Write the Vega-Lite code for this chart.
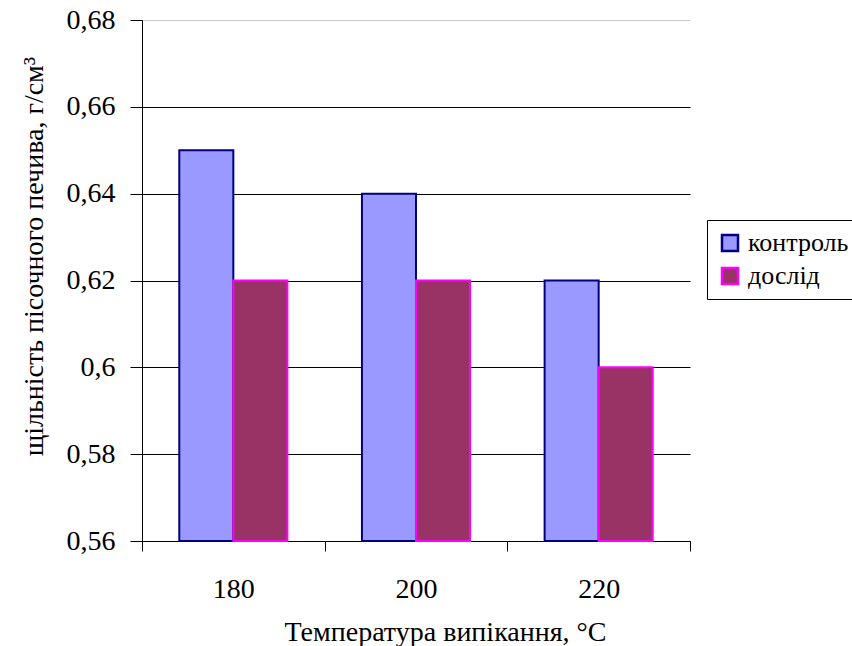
{
  "$schema": "https://vega.github.io/schema/vega-lite/v6.json",
  "width": 548,
  "height": 521,
  "autosize": {"type": "none"},
  "padding": {"left": 142, "top": 20, "right": 162, "bottom": 105},
  "background": "white",
  "config": {
    "view": {"stroke": null},
    "font": "'Liberation Serif', serif",
    "axis": {
      "labelFont": "'Liberation Serif', serif",
      "titleFont": "'Liberation Serif', serif",
      "labelColor": "black",
      "titleColor": "black",
      "titleFontWeight": "normal",
      "domainColor": "black",
      "tickColor": "black",
      "domainWidth": 1,
      "tickWidth": 1
    },
    "legend": {
      "labelFont": "'Liberation Serif', serif",
      "labelColor": "black"
    }
  },
  "data": {
    "values": [
      {"temp": "180", "series": "контроль", "density": 0.65},
      {"temp": "180", "series": "дослід", "density": 0.62},
      {"temp": "200", "series": "контроль", "density": 0.64},
      {"temp": "200", "series": "дослід", "density": 0.62},
      {"temp": "220", "series": "контроль", "density": 0.62},
      {"temp": "220", "series": "дослід", "density": 0.60}
    ]
  },
  "mark": {"type": "bar", "strokeWidth": 2},
  "encoding": {
    "x": {
      "field": "temp",
      "type": "nominal",
      "scale": {"paddingInner": 0, "paddingOuter": 0},
      "axis": {
        "title": "Температура випікання, °C",
        "titleFontSize": 28,
        "titleX": 303,
        "titleY": 99,
        "titleAlign": "center",
        "titleBaseline": "alphabetic",
        "labelAngle": 0,
        "labelFontSize": 28,
        "labelBaseline": "alphabetic",
        "labelPadding": 46,
        "tickSize": 10,
        "tickBand": "extent",
        "grid": false
      }
    },
    "xOffset": {
      "field": "series",
      "type": "nominal",
      "sort": ["контроль", "дослід"],
      "scale": {"paddingInner": 0, "paddingOuter": 0.69}
    },
    "y": {
      "field": "density",
      "type": "quantitative",
      "scale": {"domain": [0.56, 0.68], "nice": false, "zero": false},
      "axis": {
        "title": "щільність пісочного печива, г/см³",
        "titleFontSize": 28,
        "titleAngle": 270,
        "titleX": -100,
        "titleY": 236,
        "titleAlign": "center",
        "titleBaseline": "alphabetic",
        "values": [0.56, 0.58, 0.6, 0.62, 0.64, 0.66, 0.68],
        "labelExpr": "replace(format(datum.value, '.2~f'), '.', ',')",
        "labelFontSize": 28,
        "labelPadding": 15,
        "tickSize": 12,
        "grid": true,
        "gridColor": {"condition": {"test": "datum.value >= 0.679", "value": "#c8c8c8"}, "value": "black"},
        "gridWidth": 1
      }
    },
    "y2": {"datum": 0.56},
    "fill": {
      "field": "series",
      "type": "nominal",
      "scale": {"domain": ["контроль", "дослід"], "range": ["#9999FF", "#993366"]},
      "legend": {
        "title": null,
        "orient": "none",
        "legendX": 565,
        "legendY": 200,
        "padding": 10,
        "symbolOffset": 0,
        "symbolType": "square",
        "symbolSize": 256,
        "symbolStrokeWidth": 2.5,
        "symbolOpacity": 1,
        "labelFontSize": 26,
        "labelOffset": 5,
        "rowPadding": 7,
        "strokeColor": "black",
        "fillColor": "white"
      }
    },
    "stroke": {
      "field": "series",
      "type": "nominal",
      "scale": {"domain": ["контроль", "дослід"], "range": ["#000080", "#FF00FF"]},
      "legend": null
    }
  }
}
